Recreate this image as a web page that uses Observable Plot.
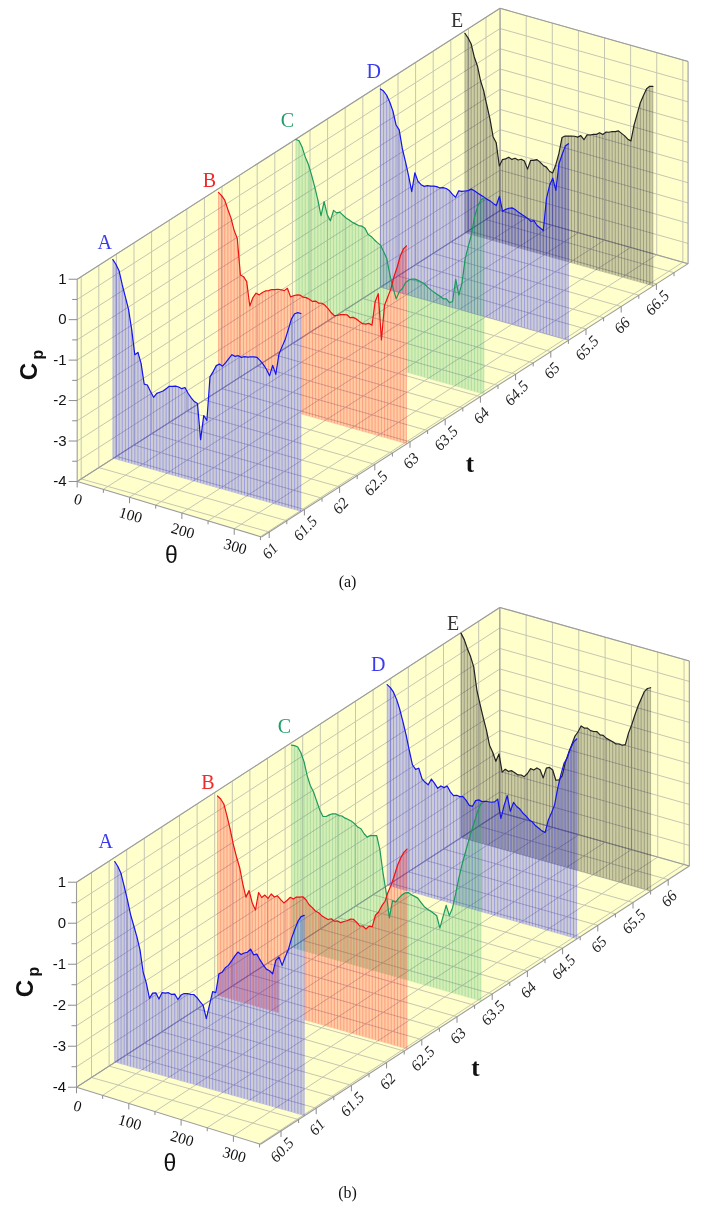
<!DOCTYPE html>
<html><head><meta charset="utf-8">
<style>html,body{margin:0;padding:0;background:#fff}svg{display:block;filter:blur(0.45px)}</style>
<script src="https://cdn.jsdelivr.net/npm/d3@7"></script>
<script src="https://cdn.jsdelivr.net/npm/@observablehq/plot@0.6"></script>
</head><body><div id="chart"></div>
<script>
// sampled every 6 degrees, theta = 0..360
const thetaValues = d3.range(0, 361, 6);
const labels = ["A","B","C","D","E"];
const lineColors = {A:"#1414f0",B:"#f01010",C:"#1c9a5c",D:"#1414f0",E:"#222222"};
const fillColors = {A:"#0000ff",B:"#ff0000",C:"#28aa5a",D:"#0000ff",E:"#000000"};
const labelColors = {A:"#3a3aee",B:"#ee2a2a",C:"#1f9d68",D:"#3a3aee",E:"#333333"};

const tSlicesA = [61.45,62.95,64.05,65.25,66.45];
const tSlicesB = [60.83,62.29,63.34,64.70,65.75];

const cpAA = [.92,.82,.68,.36,.08,-.2,-.68,-1.28,-1.2,-1.45,
-1.94,-1.94,-2.08,-2.2,-2.08,-2.03,-1.98,-1.9,-1.82,-1.8,
-1.77,-1.77,-1.79,-1.74,-1.86,-1.95,-2.02,-2.05,-2.92,-2.3,
-2.4,-1.3,-1.15,-.98,-.92,-.95,-.84,-.72,-.6,-.62,
-.58,-.6,-.56,-.55,-.52,-.5,-.49,-.55,-.62,-.72,
-.86,-.58,-.78,-.26,-.05,.15,.42,.7,.85,.9,.9];
const cpAB = [.91,.85,.76,.55,.36,.08,-.1,-.98,-1.0,-1.1,
-1.68,-1.45,-1.32,-1.34,-1.26,-1.2,-1.17,-1.12,-1.1,-1.07,
-1.06,-1.06,-.98,-1.17,-1.12,-1.08,-1.06,-1.09,-1.08,-1.1,
-1.13,-1.1,-1.13,-1.11,-1.14,-1.2,-1.28,-1.33,-1.3,-1.26,
-1.24,-1.22,-1.27,-1.24,-1.26,-1.3,-1.33,-1.32,-1.28,-1.3,
-.7,-.48,-1.6,-.72,-.5,-.28,.05,.3,.6,.8,.9];
const cpAC = [.99,.98,.84,.62,.46,.22,-.05,-.35,-.72,-.35,
-.65,-.78,-.5,-.54,-.5,-.55,-.6,-.63,-.66,-.68,
-.7,-.69,-.72,-.85,-.88,-.94,-.99,-1.03,-1.17,-1.32,
-1.7,-2.0,-2.25,-2.05,-1.95,-1.78,-1.7,-1.65,-1.63,-1.64,
-1.66,-1.68,-1.74,-1.78,-1.82,-1.85,-1.88,-1.92,-1.9,-1.97,
-1.92,-1.35,-1.72,-1.4,-.78,-.45,-.14,.32,.6,.78,.86];
const cpAD = [.9,.87,.79,.64,.44,.12,.02,-.42,-.72,-1.05,
-1.42,-.93,-1.12,-1.18,-1.2,-1.16,-1.15,-1.13,-1.12,-1.13,
-1.1,-1.1,-1.13,-1.2,-1.25,-1.07,-1.06,-1.03,-1.0,-.94,
-.96,-.99,-1.02,-1.05,-1.08,-1.1,-1.14,-1.17,-.92,-1.27,
-1.2,-1.15,-1.12,-1.14,-1.18,-1.21,-1.24,-1.27,-1.32,-1.28,
-1.38,-1.42,-1.46,-.65,-.3,-.1,-.38,.3,.55,.78,.86];
const cpAE = [.94,.85,.72,.42,.22,-.12,-.35,-.68,-1.0,-1.42,
-1.55,-2.1,-1.92,-1.88,-1.82,-1.85,-1.8,-1.82,-1.78,-1.8,
-1.98,-1.74,-1.72,-1.68,-1.72,-1.78,-1.8,-1.88,-1.9,-1.68,
-1.38,-.96,-.9,-.88,-.86,-.84,-.84,-.78,-.86,-.72,
-.7,-.66,-.64,-.58,-.6,-.52,-.5,-.46,-.44,-.4,
-.44,-.48,-.54,-.56,-.15,.15,.45,.65,.84,.92,.94];

const cpBA = [.9,.8,.65,.36,.06,-.28,-.53,-.78,-1.08,-1.6,
-1.85,-2.2,-2.05,-2.02,-2.15,-1.97,-1.96,-1.93,-1.95,-1.92,
-2.03,-1.9,-1.84,-1.82,-1.82,-1.8,-1.85,-1.93,-2.0,-2.3,
-1.95,-1.6,-1.6,-1.12,-1.06,-.93,-.85,-.72,-.58,-.46,
-.5,-.44,-.4,-.3,-.42,-.38,-.5,-.6,-.68,-.7,
-.75,-.4,-.3,-.48,-.25,-.05,.25,.48,.7,.84,.89];
const cpBB = [.87,.82,.72,.45,.15,-.2,-.48,-.72,-1.1,-1.4,
-1.22,-1.5,-1.65,-1.2,-1.3,-1.22,-1.28,-1.15,-1.2,-1.15,
-1.22,-1.28,-1.2,-1.1,-1.12,-1.05,-1.03,-1.0,-1.05,-1.15,
-1.2,-1.26,-1.28,-1.33,-1.36,-1.38,-1.34,-1.38,-1.35,-1.37,
-1.32,-1.28,-1.22,-1.2,-1.25,-1.32,-1.3,-1.35,-1.26,-1.25,
-.95,-.85,-.68,-.55,-.3,-.1,.15,.42,.62,.78,.88];
const cpBC = [.94,.95,.94,.82,.62,.3,.08,-.05,-.25,-.45,
-.58,-.56,-.5,-.45,-.43,-.45,-.44,-.47,-.48,-.5,
-.54,-.6,-.62,-.72,-.78,-.72,-.7,-.68,-1.0,-1.55,
-2.0,-2.6,-2.16,-2.17,-2.05,-1.95,-1.88,-1.85,-1.88,-1.9,
-1.92,-2.0,-2.08,-2.12,-2.15,-2.18,-2.22,-2.5,-2.2,-1.9,
-2.13,-1.92,-1.55,-1.15,-.8,-.5,-.2,.08,.35,.62,.82];
const cpBD = [.9,.85,.76,.6,.38,.1,-.2,-.55,-.88,-.97,
-.92,-1.15,-1.22,-1.26,-1.1,-1.18,-1.28,-1.2,-1.22,-1.16,
-1.28,-1.35,-1.32,-1.33,-1.31,-1.38,-1.48,-1.48,-1.32,-1.28,
-1.3,-1.27,-1.26,-1.25,-1.22,-1.13,-1.58,-1.25,-.98,-1.34,
-1.1,-1.18,-1.22,-1.3,-1.35,-1.42,-1.45,-1.52,-1.56,-1.6,
-1.62,-1.3,-1.1,-.88,-.45,-.1,.2,.35,.6,.78,.88];
const cpBE = [.98,.85,.65,.48,.25,-.3,-.62,-.92,-1.2,-1.55,
-1.7,-1.9,-1.7,-2.12,-2.03,-2.06,-2.02,-2.05,-2.08,-2.06,
-2.08,-1.98,-1.84,-1.85,-1.78,-1.8,-1.98,-1.72,-1.68,-1.72,
-1.95,-1.92,-1.8,-1.45,-1.2,-.98,-.75,-.62,-.45,-.48,
-.46,-.5,-.5,-.48,-.54,-.53,-.58,-.6,-.62,-.65,
-.63,-.64,-.6,-.3,-.08,.18,.42,.62,.82,.92,.96];

const thetaGrid = d3.range(0, 351, 50);
const thetaTicks = [0,100,200,300];
const cpGrid = d3.range(-4, 1.01, 0.5);
const cpTicks = [1,0,-1,-2,-3,-4];
const tTicksA = [61,61.5,62,62.5,63,63.5,64,64.5,65,65.5,66,66.5];
const tTicksB = [60.5,61,61.5,62,62.5,63,63.5,64,64.5,65,65.5,66];

// axis calibration of the two oblique boxes
const panelA = {name:"a", tRef:61, lx:80.7, ly:478.4, rx:268.7, ry:531.5, dx:70.4, dy:-45.1,
  tL0:60.943, tR0:60.89, tMax:66.95, k:40.45, thetaFront:352,
  tGrid:d3.range(61,66.9,0.25), tTicks:tTicksA, slices:tSlicesA, cps:[cpAA,cpAB,cpAC,cpAD,cpAE],
  letters:[[104.3,241.7],[209,180],[287,120],[373.3,70.7],[456.7,20]],
  tTitle:[469.3,463], thetaTitle:[171,555], cTitle:[29,371], pTitle:[37,354], caption:["(a)",347,581], clips:[{mark:"B",out:"A",from:0},{mark:"C",out:"B",from:0}]};
const panelB = {name:"b", tRef:60.5, lx:91, ly:1077, rx:280.5, ry:1130.5, dx:70.4, dy:-45.7,
  tL0:60.287, tR0:60.21, tMax:66.3, k:41, thetaFront:352,
  tGrid:d3.range(60.5,66.25,0.25), tTicks:tTicksB, slices:tSlicesB, cps:[cpBA,cpBB,cpBC,cpBD,cpBE],
  letters:[[105.3,840.7],[207.3,781.7],[284,726],[377.7,664],[452.7,623.3]],
  tTitle:[475,1067], thetaTitle:[169.3,1163], cTitle:[25,988], pTitle:[33,971], caption:["(b)",347,1192], clips:[{mark:"B",out:"A",from:312}]};

const L = (p,t) => [p.lx + p.dx*(t-p.tRef), p.ly + p.dy*(t-p.tRef)];
const R = (p,t) => [p.rx + p.dx*(t-p.tRef), p.ry + p.dy*(t-p.tRef)];
const mix = (a,b,u) => [a[0]+(b[0]-a[0])*u, a[1]+(b[1]-a[1])*u];
const floorAt = (p,theta,t) => mix(L(p,t),R(p,t),theta/360);
const frontAt = (p,theta) => mix(L(p,p.tL0),R(p,p.tR0),theta/p.thetaFront);
const up = (q,p,c) => [q[0], q[1]-(c+4)*p.k];
const seg = (a,b) => ({x1:a[0],y1:a[1],x2:b[0],y2:b[1]});

const gridColor = "#c6c6b2", edgeColor = "#9c9c9c", tickColor = "#8c8c8c", wallFill = "#ffffcc";
const serif = "Liberation Serif", sans = "Liberation Sans";

function curveRows(p,i){
  const t = p.slices[i];
  return thetaValues.map((th,j)=>{
    const b = floorAt(p,th,t), q = up(b,p,p.cps[i][j]);
    return {theta:th,x:q[0],y:q[1],xb:b[0],yb:b[1]};
  });
}
function outline(rows){
  const top = rows.map(r=>[r.x,r.y]);
  const bot = rows.slice().reverse().map(r=>[r.xb,r.yb]);
  return top.concat(bot,[top[0]]);
}
function polygonPath(p,i,from){
  return "M"+outline(curveRows(p,i).filter(r=>r.theta>=from)).map(q=>q.join(",")).join("L")+"Z";
}

function panelMarks(p){
  const FL=L(p,p.tL0), FR=R(p,p.tR0), BL=L(p,p.tMax), BR=R(p,p.tMax);
  const marks=[];
  const poly=(pts,fill,extra={})=>Plot.line(pts,{x:d=>d[0],y:d=>d[1],fill,stroke:"none",z:null,...extra});
  marks.push(poly([up(FL,p,-4),up(FL,p,1),up(BL,p,1),up(BL,p,-4),up(FL,p,-4)],wallFill));
  marks.push(poly([up(BL,p,-4),up(BL,p,1),up(BR,p,1),up(BR,p,-4),up(BL,p,-4)],wallFill));
  marks.push(poly([FL,BL,BR,FR,FL],wallFill));
  const grid=[];
  p.tGrid.forEach(t=>{ const a=L(p,t); grid.push(seg(a,up(a,p,1))); grid.push(seg(a,R(p,t))); });
  cpGrid.forEach(c=>{ grid.push(seg(up(FL,p,c),up(BL,p,c))); grid.push(seg(up(BL,p,c),up(BR,p,c))); });
  thetaGrid.forEach(th=>{ const b=floorAt(p,th,p.tMax); grid.push(seg(b,up(b,p,1))); grid.push(seg(frontAt(p,th),b)); });
  marks.push(Plot.link(grid,{x1:"x1",y1:"y1",x2:"x2",y2:"y2",stroke:gridColor,strokeWidth:1}));
  const edges=[seg(FL,up(FL,p,1)),seg(up(FL,p,1),up(BL,p,1)),seg(up(BL,p,1),up(BR,p,1)),seg(up(BR,p,1),BR),seg(BR,FR),seg(FR,FL),seg(FL,BL),seg(BL,BR),seg(BL,up(BL,p,1))];
  marks.push(Plot.link(edges,{x1:"x1",y1:"y1",x2:"x2",y2:"y2",stroke:edgeColor,strokeWidth:1.1}));
  // axis ticks
  const ticks=[];
  cpGrid.forEach(c=>{ const q=up(FL,p,c); const len=Number.isInteger(c)?8.5:5; ticks.push(seg(q,[q[0]-len,q[1]])); });
  thetaGrid.forEach(th=>{ const q=frontAt(p,th); ticks.push(seg(q,[q[0],q[1]+(th%100===0?6:3.5)])); });
  p.tGrid.forEach(t=>{ const q=R(p,t); const maj=Math.abs(t*2-Math.round(t*2))<1e-6; ticks.push(seg(q,[q[0],q[1]+(maj?6:3.5)])); });
  marks.push(Plot.link(ticks,{x1:"x1",y1:"y1",x2:"x2",y2:"y2",stroke:tickColor,strokeWidth:1}));
  // curtains, back to front
  [4,3,2,1,0].forEach(i=>{
    const rows=curveRows(p,i), nm=labels[i];
    marks.push(poly(outline(rows),fillColors[nm],{fillOpacity:0.2,className:`curtain-${p.name}-${nm}`}));
    marks.push(Plot.ruleX(rows,{x:"x",y1:"y",y2:"yb",stroke:fillColors[nm],strokeOpacity:0.22,strokeWidth:1,className:`stripes-${p.name}-${nm}`}));
  });
  [4,3,2,1,0].forEach(i=>{
    const nm=labels[i];
    marks.push(Plot.line(curveRows(p,i),{x:"x",y:"y",stroke:lineColors[nm],strokeWidth:1.2}));
  });
  // texts
  marks.push(Plot.text(cpTicks,{x:up(FL,p,0)[0]-10.5,y:c=>up(FL,p,c)[1],text:c=>String(c),textAnchor:"end",fontSize:15,fontFamily:sans,fill:"#111"}));
  marks.push(Plot.text(thetaTicks,{x:th=>frontAt(p,th)[0]+1,y:th=>frontAt(p,th)[1]+(p.name==="a"?18:19),text:th=>String(th),rotate:16,fontSize:15.5,fontFamily:serif,fill:"#111"}));
  marks.push(Plot.text(p.tTicks,{x:t=>R(p,t)[0]+1,y:t=>R(p,t)[1]+19,text:t=>String(t),rotate:-47,fontSize:15.5,fontFamily:serif,fontStyle:"italic",fill:"#222"}));
  labels.forEach((nm,i)=>marks.push(Plot.text([nm],{x:p.letters[i][0],y:p.letters[i][1],text:d=>d,fontSize:20,fontFamily:serif,fill:labelColors[nm]})));
  marks.push(Plot.text(["t"],{x:p.tTitle[0],y:p.tTitle[1],text:d=>d,fontSize:25,fontWeight:"bold",fontFamily:serif,fill:"#111"}));
  marks.push(Plot.text(["θ"],{x:p.thetaTitle[0],y:p.thetaTitle[1],text:d=>d,fontSize:23,fontFamily:sans,fill:"#111"}));
  marks.push(Plot.text(["C"],{x:p.cTitle[0],y:p.cTitle[1],text:d=>d,rotate:-90,fontSize:24,fontWeight:"bold",fontFamily:sans,fill:"#111"}));
  marks.push(Plot.text(["p"],{x:p.pTitle[0],y:p.pTitle[1],text:d=>d,rotate:-90,fontSize:16,fontWeight:"bold",fontFamily:sans,fill:"#111"}));
  marks.push(Plot.text([p.caption[0]],{x:p.caption[1],y:p.caption[2],text:d=>d,fontSize:16,fontFamily:serif,fill:"#111"}));
  return marks;
}

const chart = Plot.plot({
  width:703, height:1210, margin:0, style:{background:"#fff",overflow:"visible"},
  x:{type:"identity",axis:null}, y:{type:"identity",axis:null},
  marks:[...panelMarks(panelA), ...panelMarks(panelB)]
});

// nearer curtains hide the ones behind them in these places
const ns="http://www.w3.org/2000/svg";
[panelA,panelB].forEach(p=>{
  p.clips.forEach(c=>{
    const id=`clip-${p.name}-${c.mark}`;
    const cp=document.createElementNS(ns,"clipPath"); cp.setAttribute("id",id);
    const path=document.createElementNS(ns,"path");
    path.setAttribute("d",`M-10,-10H800V1300H-10Z`+polygonPath(p,labels.indexOf(c.out),c.from));
    path.setAttribute("clip-rule","evenodd");
    cp.appendChild(path); chart.appendChild(cp);
    ["curtain","stripes"].forEach(k=>{
      const g=chart.querySelector(`.${k}-${p.name}-${c.mark}`);
      if(g) g.setAttribute("clip-path",`url(#${id})`);
    });
  });
});
document.getElementById("chart").appendChild(chart);
</script></body></html>
